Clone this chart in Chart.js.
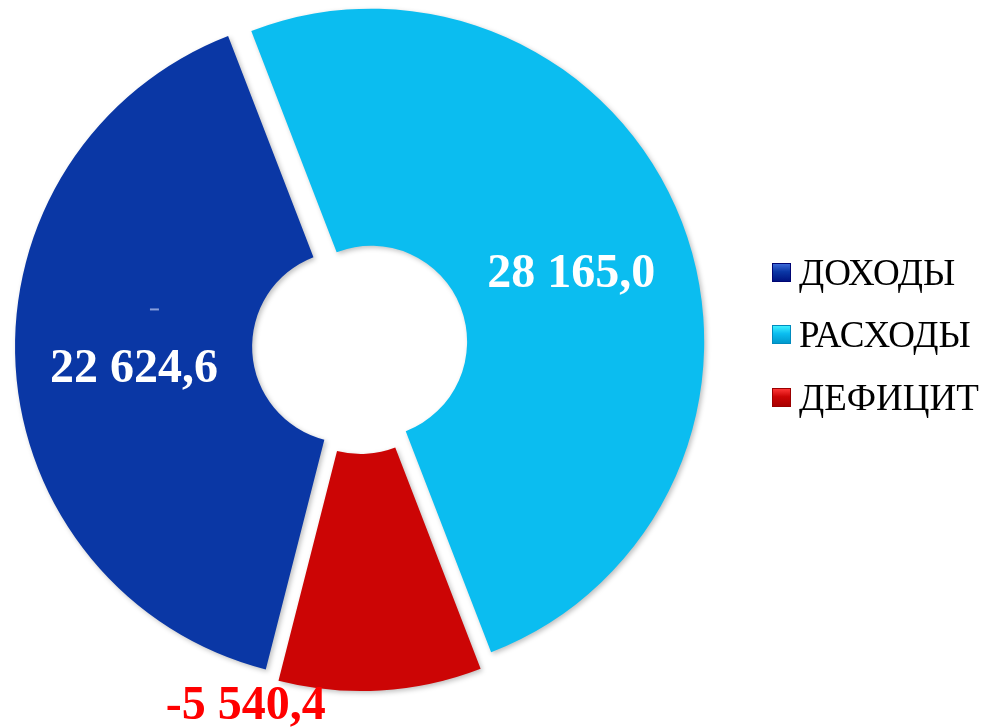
<!DOCTYPE html>
<html>
<head>
<meta charset="utf-8">
<script src="https://cdn.jsdelivr.net/npm/chart.js@4/dist/chart.umd.min.js"></script>
<style>
    html, body { margin: 0; padding: 0; background: #fff; }
    #wrap { position: relative; width: 982px; height: 727px; overflow: hidden; }
    #legend { position: absolute; left: 772px; top: 241px; font-family: "Liberation Serif", "Times New Roman", serif; }
    .legend-row { display: flex; align-items: center; height: 62.5px; }
    .legend-box { width: 19px; height: 19px; margin-right: 8px; box-sizing: border-box; }
    .legend-text { font-size: 37px; color: #000; line-height: 1; }
</style>
</head>
<body>
<div id="wrap">
    <canvas id="budget" width="982" height="727"></canvas>
    <div id="legend"></div>
</div>
<script>
var categories = ['ДОХОДЫ', 'РАСХОДЫ', 'ДЕФИЦИТ'];
var values = [22624.6, 28165.0, -5540.4];
var colors = ['#0a37a5', '#0bbdf0', '#cc0505'];
var labelColors = ['#ffffff', '#ffffff', '#ff0000'];

var BudgetChart = (function() {

    var EXPLODE = 12;

    function formatValue(v) {
        var parts = v.toFixed(1).split('.');
        var sign = parts[0].charAt(0) === '-' ? '-' : '';
        var digits = parts[0].replace('-', '');
        digits = digits.replace(/\B(?=(\d{3})+(?!\d))/g, ' ');
        return sign + digits + ',' + parts[1];
    }

    function shade(hex, amt) {
        var n = parseInt(hex.slice(1), 16);
        var r = Math.min(255, Math.max(0, (n >> 16) + amt));
        var g = Math.min(255, Math.max(0, ((n >> 8) & 255) + amt));
        var b = Math.min(255, Math.max(0, (n & 255) + amt));
        return 'rgb(' + r + ',' + g + ',' + b + ')';
    }

    // draws each arc pushed out along its middle angle (exploded doughnut)
    var explodePlugin = {
        id: 'explode',
        beforeDatasetDraw: function(chart, args) {
            var ctx = chart.ctx;
            args.meta.data.forEach(function(arc) {
                var mid = (arc.startAngle + arc.endAngle) / 2;
                ctx.save();
                ctx.shadowColor = 'rgba(0, 0, 0, 0.25)';
                ctx.shadowBlur = 5;
                ctx.shadowOffsetX = 2;
                ctx.shadowOffsetY = 2;
                ctx.translate(Math.cos(mid) * EXPLODE, Math.sin(mid) * EXPLODE);
                arc.draw(ctx);
                ctx.restore();
            });
            return false;
        }
    };

    var valueLabelPlugin = {
        id: 'valueLabels',
        afterDatasetsDraw: function(chart) {
            var ctx = chart.ctx;
            var arcs = chart.getDatasetMeta(0).data;
            ctx.save();
            ctx.font = 'bold 48px "Liberation Serif", "Times New Roman", serif';
            ctx.textAlign = 'center';
            ctx.textBaseline = 'middle';
            arcs.forEach(function(arc, i) {
                var mid = (arc.startAngle + arc.endAngle) / 2;
                var x, y;
                if (values[i] < 0) {
                    // negative value sits outside, under the segment, shifted left
                    x = arc.x + Math.cos(mid) * arc.outerRadius - 134;
                    y = arc.y + arc.outerRadius + EXPLODE + 16;
                } else {
                    var r = (arc.innerRadius + arc.outerRadius) / 2 + EXPLODE;
                    x = arc.x + Math.cos(mid) * r;
                    y = arc.y + Math.sin(mid) * r + 10;
                }
                ctx.fillStyle = labelColors[i];
                ctx.fillText(formatValue(values[i]), x, y);
                if (i === 0) {
                    // faint dash left over above the first label
                    ctx.fillStyle = 'rgba(150, 170, 225, 0.9)';
                    ctx.fillRect(x + 16, y - 61, 9, 2);
                }
            });
            ctx.restore();
        }
    };

    function buildLegend() {
        var legend = document.getElementById('legend');
        categories.forEach(function(name, i) {
            var row = document.createElement('div');
            row.className = 'legend-row';
            var box = document.createElement('div');
            box.className = 'legend-box';
            box.style.background = 'linear-gradient(180deg, ' + shade(colors[i], 50) + ' 0%, ' + colors[i] + ' 45%, ' + shade(colors[i], -35) + ' 100%)';
            box.style.border = '1px solid ' + shade(colors[i], -50);
            var text = document.createElement('span');
            text.className = 'legend-text';
            text.textContent = name;
            row.appendChild(box);
            row.appendChild(text);
            legend.appendChild(row);
        });
    }

    function init() {
        new Chart('budget', {
            type: 'doughnut',
            data: {
                labels: categories,
                datasets: [{
                    data: values.map(function(v) { return Math.abs(v); }),
                    backgroundColor: colors,
                    borderWidth: 0,
                    hoverOffset: 0
                }]
            },
            options: {
                responsive: false,
                animation: false,
                rotation: 194.3,
                radius: 333,
                cutout: '28.8%',
                layout: { padding: { left: 0, right: 262, top: 0, bottom: 35 } },
                plugins: {
                    legend: { display: false },
                    tooltip: { enabled: false }
                }
            },
            plugins: [explodePlugin, valueLabelPlugin]
        });
        buildLegend();
    }

    return { init: init };
})();

document.addEventListener('DOMContentLoaded', function() {
    BudgetChart.init();
});
</script>
</body>
</html>
